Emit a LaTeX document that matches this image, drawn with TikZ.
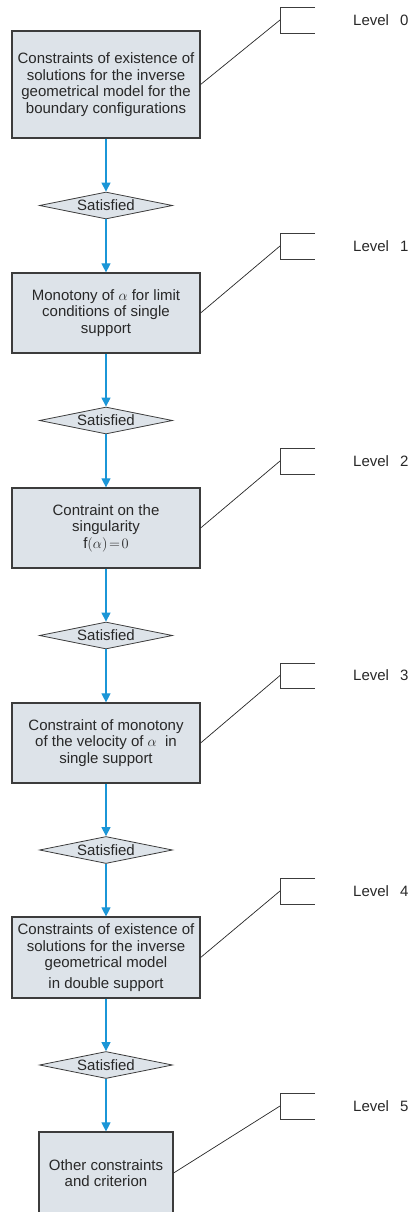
\documentclass[tikz,border=0pt]{standalone}
\usepackage{fontspec}
\setmainfont{Liberation Sans}
\usetikzlibrary{shapes.geometric,arrows.meta}
\definecolor{boxfill}{RGB}{221,227,233}
\definecolor{boxline}{RGB}{60,60,60}
\definecolor{flowblue}{RGB}{27,150,215}
\definecolor{txt}{RGB}{40,40,40}
\begin{document}
\begin{tikzpicture}[x=1pt,y=-1pt,
  every node/.style={font=\fontsize{15}{16.5}\selectfont, text=txt},
  stepbox/.style={draw=boxline, line width=1.2pt, fill=boxfill, align=center, inner sep=0pt},
  cond/.style={diamond, draw=boxline, line width=0.8pt, fill=boxfill, shape aspect=4.9, inner sep=0pt, minimum width=133pt, minimum height=27pt},
  flow/.style={draw=flowblue, line width=1.1pt, -{Triangle[length=9pt,width=9pt]}},
  link/.style={draw=black!85, line width=0.7pt},
  bracket/.style={draw=boxline, line width=0.9pt},
  lvl/.style={anchor=west, inner sep=0pt}]
\useasboundingbox (0,0) rectangle (414,1212);
\clip (0,0) rectangle (414,1212);

% main boxes
\node[stepbox, minimum width=188pt, minimum height=107pt] (b0) at (106,84.5)
  {Constraints of existence of\\solutions for the inverse\\geometrical model for the\\boundary configurations};
\node[stepbox, minimum width=188pt, minimum height=80pt] (b1) at (106,313)
  {Monotony of $\alpha$ for limit\\conditions of single\\support};
\node[stepbox, minimum width=188pt, minimum height=80pt] (b2) at (106,528)
  {Contraint on the\\singularity\\$\mathrm{f}(\alpha)\!=\!0$};
\node[stepbox, minimum width=188pt, minimum height=80pt] (b3) at (106,743)
  {Constraint of monotony\\of the velocity of $\alpha$\ \ in\\single support};
\node[stepbox, minimum width=188pt, minimum height=81pt] (b4) at (106,957.5)
  {Constraints of existence of\\solutions for the inverse\\geometrical model\\[4pt]in double support};
\node[stepbox, minimum width=134pt, minimum height=82pt] (b5) at (106,1173)
  {Other constraints\\and criterion};

% decisions
\node[cond] (d0) at (106,205.5) {Satisfied};
\node[cond] (d1) at (106,420.5) {Satisfied};
\node[cond] (d2) at (106,635.5) {Satisfied};
\node[cond] (d3) at (106,850) {Satisfied};
\node[cond] (d4) at (106,1065) {Satisfied};

% flow arrows
\draw[flow] (b0) -- (d0);
\draw[flow] (d0) -- (b1);
\draw[flow] (b1) -- (d1);
\draw[flow] (d1) -- (b2);
\draw[flow] (b2) -- (d2);
\draw[flow] (d2) -- (b3);
\draw[flow] (b3) -- (d3);
\draw[flow] (d3) -- (b4);
\draw[flow] (b4) -- (d4);
\draw[flow] (d4) -- (b5);

% level brackets
\coordinate (k0) at (280,20);
\coordinate (k1) at (280,246);
\coordinate (k2) at (280,461);
\coordinate (k3) at (280,675.5);
\coordinate (k4) at (280,891);
\coordinate (k5) at (280,1106);
\draw[bracket] (315,7) -- (280,7) -- (280,33) -- (315,33);
\draw[bracket] (315,233) -- (280,233) -- (280,259) -- (315,259);
\draw[bracket] (315,448) -- (280,448) -- (280,474) -- (315,474);
\draw[bracket] (315,663) -- (280,663) -- (280,688) -- (315,688);
\draw[bracket] (315,878) -- (280,878) -- (280,904) -- (315,904);
\draw[bracket] (315,1093) -- (280,1093) -- (280,1119) -- (315,1119);

% links
\draw[link] (b0.east) -- (k0);
\draw[link] (b1.east) -- (k1);
\draw[link] (b2.east) -- (k2);
\draw[link] (b3.east) -- (k3);
\draw[link] (b4.east) -- (k4);
\draw[link] (b5.east) -- (k5);

% level labels
\node[lvl] (l0) at (353,20) {Level\hspace{11pt}0};
\node[lvl] (l1) at (353,246) {Level\hspace{11pt}1};
\node[lvl] (l2) at (353,461) {Level\hspace{11pt}2};
\node[lvl] (l3) at (353,675.5) {Level\hspace{11pt}3};
\node[lvl] (l4) at (353,891) {Level\hspace{11pt}4};
\node[lvl] (l5) at (353,1106) {Level\hspace{11pt}5};
\end{tikzpicture}
\end{document}
